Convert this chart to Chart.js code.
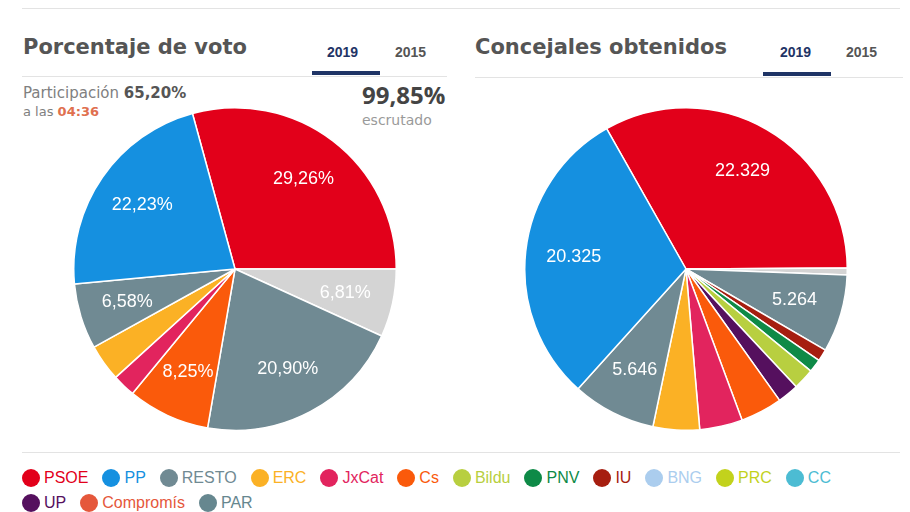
<!DOCTYPE html>
<html lang="es">
<head>
<meta charset="utf-8">
<title>Elecciones municipales 2019</title>
<script src="https://cdn.jsdelivr.net/npm/chart.js@4"></script>
<style>
  body { margin: 0; background: #fff; font-family: "DejaVu Sans", Verdana, sans-serif; }
  #page { position: relative; width: 910px; height: 512px; overflow: hidden; }
  .rule { position: absolute; height: 1px; background: #e3e3e3; }
  .title { position: absolute; top: 35px; font-size: 21px; font-weight: bold; color: #555; }
  .tab { position: absolute; top: 44px; font-family: Arial, "Liberation Sans", sans-serif; font-size: 14px; font-weight: bold; color: #555; }
  .tab.on { color: #1f3466; }
  .bar { position: absolute; height: 4px; background: #1f3466; }
  .info { position: absolute; color: #808080; }
  .info b { color: #555; }
  .pie { position: absolute; }
  #leyenda { position: absolute; left: 22px; top: 465px; width: 850px; display: flex; flex-wrap: wrap;
             font-family: Arial, "Liberation Sans", sans-serif; font-size: 16px; }
  .item { display: flex; align-items: center; height: 25px; margin-right: 14px; }
  .dot { width: 18px; height: 18px; border-radius: 50%; margin-right: 4px; }
</style>
</head>
<body>
<div id="page">
  <div class="rule" style="left:22px; top:8px; width:878px;"></div>

  <!-- Porcentaje de voto -->
  <div class="title" style="left:23px;">Porcentaje de voto</div>
  <div class="tab on" style="left:327px;">2019</div>
  <div class="tab" style="left:395px;">2015</div>
  <div class="bar" style="left:312px; top:71px; width:68px;"></div>
  <div class="rule" style="left:22px; top:76px; width:425px;"></div>
  <div class="info" style="left:23px; top:84px; font-size:15px;">Participación <b>65,20%</b></div>
  <div class="info" style="left:23px; top:104px; font-size:13px;">a las <b style="color:#e0704f;">04:36</b></div>
  <div class="info" style="left:362px; top:78px; font-family:'Open Sans', Arial, sans-serif; font-size:24px; font-weight:bold; color:#444;">99,85%</div>
  <div class="info" style="left:362px; top:112px; font-size:14px; color:#9a9a9a;">escrutado</div>
  <canvas id="votoChart" class="pie" style="left:73px; top:107px;" width="324" height="324"></canvas>

  <!-- Concejales obtenidos -->
  <div class="title" style="left:475px;">Concejales obtenidos</div>
  <div class="tab on" style="left:780px;">2019</div>
  <div class="tab" style="left:846px;">2015</div>
  <div class="bar" style="left:763px; top:72px; width:68px;"></div>
  <div class="rule" style="left:475px; top:77px; width:428px;"></div>
  <canvas id="concejalesChart" class="pie" style="left:524px; top:107px;" width="324" height="324"></canvas>

  <div class="rule" style="left:22px; top:452px; width:878px;"></div>
  <div id="leyenda"></div>
</div>

<script>
// ── Datos ────────────────────────────────────────────
const partidos = ['PSOE', 'PP', 'RESTO', 'ERC', 'JxCat', 'Cs', 'Bildu', 'PNV', 'IU', 'BNG', 'PRC', 'CC', 'UP', 'Compromís', 'PAR'];
const coloresPartido = ['#e2001a', '#1590e0', '#708a93', '#fbb125', '#e2245e', '#fa5a0b', '#b8cf40', '#0e8a47', '#a61e10', '#abcdee', '#c2d21c', '#4cbcd3', '#55105e', '#e5573b', '#66878f'];

// porcentaje de voto (orden de las porciones, en sentido horario)
const votoLabels  = ['PSOE', 'Otros', 'RESTO', 'Cs', 'JxCat', 'ERC', 'PAR', 'PP'];
const votoValores = [29.26, 6.81, 20.90, 8.25, 2.30, 3.67, 6.58, 22.23];

// concejales obtenidos
const concejalesLabels  = ['PSOE', 'Otros', 'RESTO', 'IU', 'PNV', 'Bildu', 'UP', 'Cs', 'JxCat', 'ERC', 'PAR', 'PP'];
const concejalesValores = [22329, 450, 5264, 810, 890, 1430, 1430, 2830, 2900, 3140, 5646, 20325];

const colorOtros = '#d4d4d4';
function colorDe(nombre) {
  const i = partidos.indexOf(nombre);
  if (nombre === 'PAR') return coloresPartido[2];
  return i > -1 ? coloresPartido[i] : colorOtros;
}

// ── Etiquetas dentro de las porciones ────────────────
const etiquetasPlugin = {
  id: 'etiquetas',
  afterDatasetsDraw(chart, args, opts) {
    const { ctx } = chart;
    const data = chart.data.datasets[0].data;
    const total = data.reduce((s, v) => s + v, 0);
    ctx.save();
    ctx.fillStyle = '#fff';
    ctx.font = '18px "Liberation Sans", Arial, sans-serif';
    ctx.textAlign = 'center';
    ctx.textBaseline = 'middle';
    chart.getDatasetMeta(0).data.forEach((arc, i) => {
      if (data[i] / total < 0.05) return;
      const p = arc.getProps(['x', 'y', 'startAngle', 'endAngle', 'outerRadius'], true);
      const a = (p.startAngle + p.endAngle) / 2;
      const r = p.outerRadius * 0.7;
      ctx.fillText(opts.format(data[i]), p.x + Math.cos(a) * r, p.y + Math.sin(a) * r);
    });
    ctx.restore();
  }
};

function crearTarta(id, labels, valores, rotacion, formato) {
  return new Chart(document.getElementById(id), {
    type: 'pie',
    data: {
      labels,
      datasets: [{
        data: valores,
        backgroundColor: labels.map(colorDe),
        borderColor: '#fff',
        borderWidth: 1.5
      }]
    },
    options: {
      responsive: false,
      animation: false,
      rotation: rotacion,
      layout: { padding: 0 },
      plugins: {
        legend: { display: false },
        tooltip: { enabled: false },
        etiquetas: { format: formato }
      }
    },
    plugins: [etiquetasPlugin]
  });
}

crearTarta('votoChart', votoLabels, votoValores, -15.3,
  v => v.toFixed(2).replace('.', ',') + '%');
crearTarta('concejalesChart', concejalesLabels, concejalesValores, -29.5,
  v => String(v).replace(/\B(?=(\d{3})+(?!\d))/g, '.'));

// ── Leyenda ──────────────────────────────────────────
const leyenda = document.getElementById('leyenda');
partidos.forEach((p, i) => {
  const item = document.createElement('div');
  item.className = 'item';
  item.innerHTML = `<span class="dot" style="background:${coloresPartido[i]}"></span><span style="color:${coloresPartido[i]}">${p}</span>`;
  leyenda.appendChild(item);
});
</script>
</body>
</html>
